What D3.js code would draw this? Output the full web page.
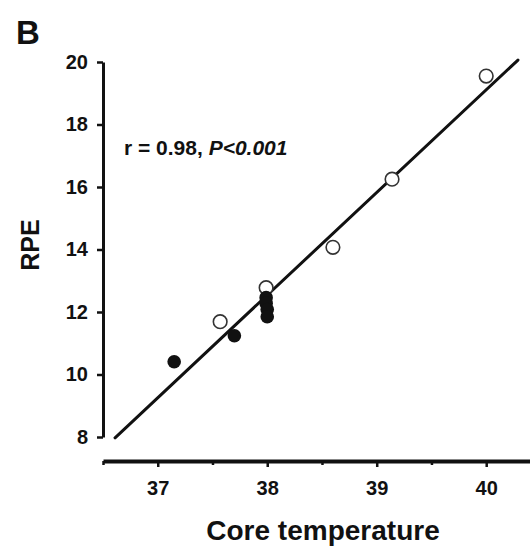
<!DOCTYPE html>
<html>
<head>
<meta charset="utf-8">
<script src="https://cdn.jsdelivr.net/npm/d3@7"></script>
<style>
  html, body { margin: 0; padding: 0; background: #fff; }
  svg { display: block; }
  text { font-family: "Liberation Sans", Arial, sans-serif; font-weight: bold; fill: #111; }
</style>
</head>
<body>
<svg id="chart" width="530" height="549"></svg>
<script>
// Core temperature (°C) vs. rating of perceived exertion
const openTemp = [37.57, 37.99, 38.60, 39.14, 40.00];
const openRPE  = [11.69, 12.78, 14.07, 16.25, 19.55];
const filledTemp = [37.15, 37.70, 37.99, 37.99, 38.00, 38.00];
const filledRPE  = [10.41, 11.24, 12.46, 12.28, 12.08, 11.85];

// Linear fit
const fitSlope = 3.285;
const fitIntercept = -112.29;
const fitRange = [36.61, 40.29];

const xMajorTicks = [37, 38, 39, 40];
const xMinorTicks = [36.5, 37.5, 38.5, 39.5];
const yTicks = [8, 10, 12, 14, 16, 18, 20];

const svg = d3.select("#chart");
const x = d3.scaleLinear().domain([36.5, 40.4]).range([103, 530]);
const y = d3.scaleLinear().domain([8, 20]).range([437, 62]);
const xAxisY = 461;

// Panel letter
svg.append("text").attr("x", 16).attr("y", 44)
  .style("font-size", "33px").text("B");

// Y axis
const yAxis = svg.append("g").attr("transform", `translate(${x(36.5)},0)`)
  .call(d3.axisLeft(y).tickValues(yTicks).tickFormat(d3.format("d"))
    .tickSize(6).tickSizeOuter(0).tickPadding(9));
yAxis.select(".domain").attr("stroke", "#111").attr("stroke-width", 3);
yAxis.selectAll(".tick line").attr("stroke", "#111").attr("stroke-width", 2.5);
yAxis.selectAll(".tick text").style("font-size", "20px").attr("fill", "#111");

// X axis
const xAxis = svg.append("g").attr("transform", `translate(0,${xAxisY})`)
  .call(d3.axisBottom(x).tickValues(xMajorTicks).tickFormat(d3.format("d"))
    .tickSize(6).tickSizeOuter(0).tickPadding(14));
xAxis.select(".domain").attr("stroke", "#111").attr("stroke-width", 4);
xAxis.selectAll(".tick line").attr("stroke", "#111").attr("stroke-width", 2.5);
xAxis.selectAll(".tick text").style("font-size", "20px").attr("fill", "#111");

const xMinor = svg.append("g").attr("transform", `translate(0,${xAxisY})`)
  .call(d3.axisBottom(x).tickValues(xMinorTicks).tickSize(4).tickFormat(""));
xMinor.select(".domain").remove();
xMinor.selectAll(".tick line").attr("stroke", "#111").attr("stroke-width", 2.5);

// Axis titles
svg.append("text").attr("x", 323).attr("y", 540)
  .attr("text-anchor", "middle").style("font-size", "28px").text("Core temperature");
svg.append("text").attr("transform", "translate(39,245) rotate(-90)")
  .attr("text-anchor", "middle").style("font-size", "25px").text("RPE");

// Regression line
svg.append("line")
  .attr("x1", x(fitRange[0])).attr("y1", y(fitSlope * fitRange[0] + fitIntercept))
  .attr("x2", x(fitRange[1])).attr("y2", y(fitSlope * fitRange[1] + fitIntercept))
  .attr("stroke", "#111").attr("stroke-width", 3).attr("stroke-linecap", "round");

// Open circles
svg.append("g").selectAll("circle")
  .data(openTemp.map((t, i) => [t, openRPE[i]]))
  .join("circle")
  .attr("cx", d => x(d[0])).attr("cy", d => y(d[1])).attr("r", 6.8)
  .attr("fill", "#fff").attr("stroke", "#333").attr("stroke-width", 1.6);

// Filled circles
svg.append("g").selectAll("circle")
  .data(filledTemp.map((t, i) => [t, filledRPE[i]]))
  .join("circle")
  .attr("cx", d => x(d[0])).attr("cy", d => y(d[1])).attr("r", 6.8)
  .attr("fill", "#111");

// Correlation annotation
const note = svg.append("text").attr("x", 124).attr("y", 155).style("font-size", "21px");
note.append("tspan").text("r = 0.98, ");
note.append("tspan").style("font-style", "italic").text("P<0.001");
</script>
</body>
</html>
